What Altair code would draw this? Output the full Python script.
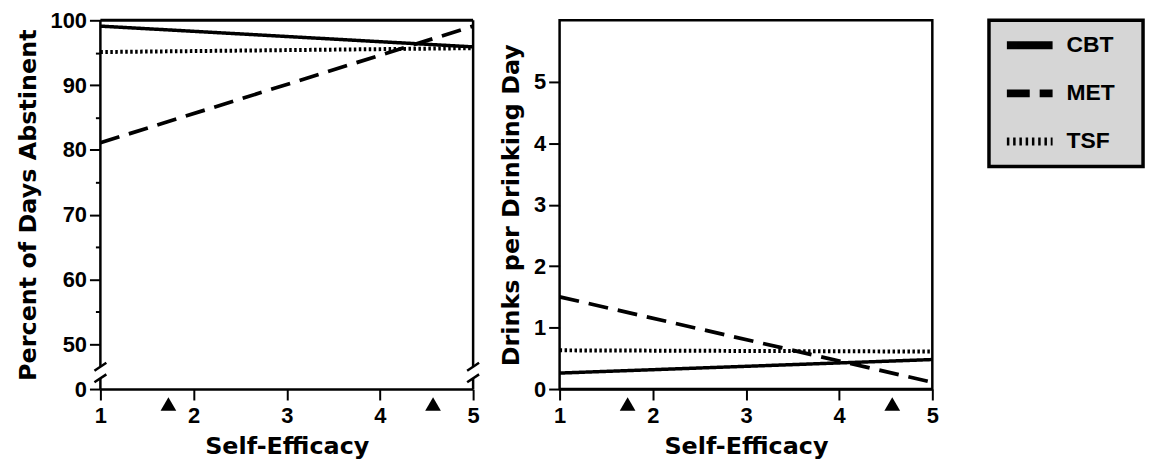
import altair as alt
import pandas as pd

# ---------------- data ----------------
series = ["CBT", "MET", "TSF"]
x_ends = [1, 5]
pda_cbt = [99.1, 95.9]
pda_met = [81.1, 99.1]
pda_tsf = [95.1, 95.7]
ddd_cbt = [0.26, 0.48]
ddd_met = [1.50, 0.11]
ddd_tsf = [0.63, 0.61]
marker_x = [1.73, 4.57]

x_ticks = [1, 2, 3, 4, 5]
pda_ticks = [0, 50, 55, 60, 65, 70, 75, 80, 85, 90, 95, 100]
ddd_ticks = [0, 1, 2, 3, 4, 5]

# axis break (0 .. 50 compressed)
pda_domain = [0, 50, 100]
break_hi = 25
break_lo = 12

# ---------------- styles ----------------
dash_range = [[1, 0], [20, 10], [2.5, 2.5]]
width_range = [3.5, 4, 4]
leg_dash_range = [[1, 0], [23, 10], [2.5, 3.8]]
leg_width_range = [8, 8, 10]
LBL_FONT = "Liberation Sans"
TTL_FONT = "DejaVu Sans"

W, H = 375, 371


def lines_df(vals):
    rows = []
    for s, v in zip(series, vals):
        for x, y in zip(x_ends, v):
            rows.append({"series": s, "x": x, "y": y})
    return pd.DataFrame(rows)


pda_df = lines_df([pda_cbt, pda_met, pda_tsf])
ddd_df = lines_df([ddd_cbt, ddd_met, ddd_tsf])
markers = pd.DataFrame({"x": marker_x, "y": [0] * len(marker_x)})

x_axis = alt.Axis(
    values=x_ticks, format="d", title="Self-Efficacy", grid=False,
    domain=True, domainColor="black", domainWidth=2.5,
    tickSize=11, tickWidth=2, tickColor="black",
    labelFont=LBL_FONT, labelFontWeight="bold", labelFontSize=22,
    labelColor="black", labelPadding=6, labelFlush=False,
    titleFont=TTL_FONT, titleFontWeight="bold", titleFontSize=24,
    titleColor="black", titlePadding=8,
)
x_enc = alt.X("x:Q", scale=alt.Scale(domain=[1, 5], nice=False, zero=False), axis=x_axis)


def y_axis(title, values, label_expr=None, tick_size=11):
    kw = dict(
        values=values, title=title, grid=False, domain=False,
        tickSize=tick_size, tickWidth=2, tickColor="black",
        labelFont=LBL_FONT, labelFontWeight="bold", labelFontSize=22,
        labelColor="black", labelPadding=3, labelFlush=False,
        titleFont=TTL_FONT, titleFontWeight="bold", titleFontSize=24,
        titleColor="black", titlePadding=10,
    )
    if label_expr:
        kw["labelExpr"] = label_expr
    return alt.Axis(**kw)


dash_enc = alt.StrokeDash("series:N", scale=alt.Scale(domain=series, range=dash_range), legend=None)
width_enc = alt.StrokeWidth("series:N", scale=alt.Scale(domain=series, range=width_range), legend=None)

# ---------------- left panel ----------------
pda_y = alt.Y(
    "y:Q",
    scale=alt.Scale(domain=pda_domain, range=[H, H - 45, 0], nice=False, zero=False),
    axis=y_axis(
        "Percent of Days Abstinent", pda_ticks,
        label_expr="datum.value % 10 === 0 ? datum.label : ''",
        tick_size={"condition": {"test": "datum.value % 10 === 0", "value": 11}, "value": 5},
    ),
)

left_lines = alt.Chart(pda_df).mark_line(color="black", strokeCap="butt").encode(
    x=x_enc, y=pda_y, strokeDash=dash_enc, strokeWidth=width_enc, detail="series:N"
)
frame_v = pd.DataFrame({"x": [1, 1, 5, 5], "y": [break_hi, 0, break_hi, 0],
                        "y2": [100, break_lo, 100, break_lo]})
left_vert = alt.Chart(frame_v).mark_rule(color="black", strokeWidth=2.5).encode(
    x=x_enc, y=pda_y, y2="y2:Q")
frame_top = pd.DataFrame({"x": [1], "x2": [5], "y": [100]})
left_top = alt.Chart(frame_top).mark_rule(color="black", strokeWidth=3).encode(
    x=x_enc, x2="x2:Q", y=pda_y)
brk = pd.DataFrame({"x": [1, 1, 5, 5], "y": [break_hi, break_lo, break_hi, break_lo]})
left_brk = alt.Chart(brk).mark_rule(
    color="black", strokeWidth=2.5, xOffset=-6, x2Offset=6, yOffset=4, y2Offset=-4
).encode(x=x_enc, x2=alt.X2("x:Q"), y=pda_y, y2=alt.Y2("y:Q"))
left_mk = alt.Chart(markers).mark_point(
    shape="triangle-up", filled=True, size=250, color="black", opacity=1, yOffset=15
).encode(x=x_enc, y=pda_y)

left = alt.layer(left_vert, left_top, left_brk, left_lines, left_mk).properties(width=W, height=H)

# ---------------- right panel ----------------
ddd_y = alt.Y(
    "y:Q",
    scale=alt.Scale(domain=[0, 6], nice=False, zero=True),
    axis=y_axis("Drinks per Drinking Day", ddd_ticks),
)
right_lines = alt.Chart(ddd_df).mark_line(color="black", strokeCap="butt").encode(
    x=x_enc, y=ddd_y, strokeDash=dash_enc, strokeWidth=width_enc, detail="series:N"
)
right_mk = alt.Chart(markers).mark_point(
    shape="triangle-up", filled=True, size=250, color="black", opacity=1, yOffset=15
).encode(x=x_enc, y=ddd_y)
right = alt.layer(right_lines, right_mk).properties(
    width=W, height=H, view=alt.ViewBackground(stroke="black", strokeWidth=2.5)
)

# ---------------- legend panel ----------------
leg_df = pd.DataFrame({"series": series, "x": [18] * 3, "x2": [64] * 3, "lx": [78] * 3})
leg_x = alt.X("x:Q", scale=alt.Scale(domain=[0, 155], nice=False, zero=True), axis=None)
leg_y = alt.Y("series:N", scale=alt.Scale(type="point", padding=0.52, domain=series), axis=None)
leg_rules = alt.Chart(leg_df).mark_rule(color="black", strokeCap="butt").encode(
    x=leg_x, x2="x2:Q", y=leg_y,
    strokeDash=alt.StrokeDash("series:N", scale=alt.Scale(domain=series, range=leg_dash_range), legend=None),
    strokeWidth=alt.StrokeWidth("series:N", scale=alt.Scale(domain=series, range=leg_width_range), legend=None),
)
leg_text = alt.Chart(leg_df).mark_text(
    align="left", baseline="middle", font=LBL_FONT, fontWeight="bold", fontSize=23, color="black"
).encode(x=alt.X("lx:Q", scale=alt.Scale(domain=[0, 155], nice=False, zero=True), axis=None),
         y=leg_y, text="series:N")
legend = alt.layer(leg_rules, leg_text).properties(
    width=155, height=147,
    view=alt.ViewBackground(stroke="black", strokeWidth=3.5, fill="#d6d6d6"),
)

panels = alt.hconcat(left, right, spacing=87, bounds="flush")
chart = alt.hconcat(panels, legend, spacing=45, bounds="full").resolve_scale(
    strokeDash="independent", strokeWidth="independent"
).properties(
    padding={"left": 16, "top": 8, "right": 5, "bottom": 5},
    background="white",
).configure_view(stroke=None)

chart.save("out.html", embed_options={"renderer": "svg", "actions": False})
